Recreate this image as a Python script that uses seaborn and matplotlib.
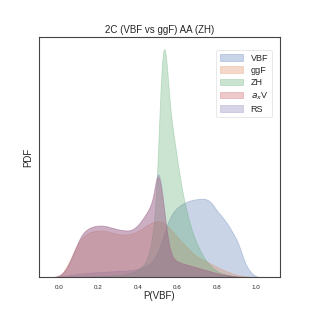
import numpy as np
import pandas as pd
import matplotlib
matplotlib.use("Agg")
import matplotlib.pyplot as plt
import seaborn as sns

# grid of P(VBF) values and the curve heights
p_grid = np.round(np.arange(0, 1.0001, 0.02), 2)

vbf = [0.5, 1, 1.5, 2, 2.5, 3, 3.3, 3.6, 3.9, 4.2, 4.5, 4.8, 5, 5.2, 5.4, 5.6,
       5.8, 6, 6.3, 6.7, 7.5, 8.5, 10, 12, 16, 22, 31, 44, 54, 60, 64, 66.5, 68.5,
       70, 71, 71.5, 72, 72, 70.5, 67, 61, 57, 52.5, 47.5, 41, 35, 26, 14, 7, 3, 0.5]
ggf = [1, 4, 10, 18, 27, 34, 39, 42, 44, 45, 45.5, 45.5, 45, 44, 43, 42, 41.5,
       41.5, 42, 43, 45, 47, 50, 52, 54, 55, 54, 52, 48, 44, 39, 35, 31, 27, 23,
       20, 18, 16, 14, 12, 10, 8, 6.5, 5, 3.5, 2, 1.5, 1, 0.5, 0.2, 0]
zh = [0, 0, 0, 0, 0.2, 0.3, 0.4, 0.5, 0.6, 0.8, 1, 1.2, 1.4, 1.6, 1.8, 2, 2.5,
      3, 4, 5.5, 7, 10, 15, 24, 45, 95, 232, 245, 172, 145, 118, 92, 72, 56, 43,
      33, 25, 18, 13, 9, 6, 4, 3, 2, 1, 0.5, 0.2, 0, 0, 0, 0]
axv = [1, 3, 8, 15, 23, 32, 38.5, 42, 44, 45, 45.5, 45.5, 45, 44, 43, 42, 41.5,
       41, 41, 42.5, 45.5, 50, 55, 61, 69, 98, 80, 48, 24, 16, 14, 12.5, 11.5,
       10.5, 9.5, 8.5, 7.5, 6.5, 5.5, 4.5, 3.5, 2.5, 2, 1.5, 1, 0.5, 0.2, 0, 0, 0, 0]
rs = [1, 3, 8, 15, 24, 33, 40, 43, 45, 46.5, 47, 47, 46.5, 45.5, 44.5, 43.5, 43,
      42.5, 42.5, 44, 47, 52, 57, 63, 71, 104, 86, 51, 25, 16, 14, 12.5, 11.5,
      10.5, 9.5, 8.5, 7.5, 6.5, 5.5, 4.5, 3.5, 2.5, 2, 1.5, 1, 0.5, 0.2, 0, 0, 0, 0]

labels = ["VBF", "ggF", "ZH", r"$a_x$V", "RS"]
series = [vbf, ggf, zh, axv, rs]
xticks = [0.0, 0.2, 0.4, 0.6, 0.8, 1.0]

sns.set_style("white")
plt.rcParams["font.family"] = ["Liberation Sans", "DejaVu Sans"]
colors = sns.color_palette("deep", 5)

fig, ax = plt.subplots(figsize=(3.12, 3.12), dpi=100)

bw = 0.013
for lab, vals, c in zip(labels, series, colors):
    df = pd.DataFrame({"p": p_grid, "w": vals})
    mean = np.average(df.p, weights=df.w)
    std = np.sqrt(np.average((df.p - mean) ** 2, weights=df.w))
    sns.kdeplot(data=df, x="p", weights="w", fill=True, alpha=0.3,
                bw_method=bw / std, color=c, label=lab, ax=ax,
                edgecolor=(*c, 0.3), linewidth=0.6)

ax.set_xlim(-0.1, 1.12)
ax.set_xticks(xticks)
ax.set_xticklabels([f"{t:.1f}" for t in xticks], fontsize=4.5)
ax.set_yticks([])
ax.set_xlabel("P(VBF)", fontsize=7, labelpad=1)
ax.set_ylabel("PDF", fontsize=7)
ax.set_title("2C (VBF vs ggF) AA (ZH)", fontsize=7, pad=3)
ax.tick_params(axis="x", pad=2)
for s in ax.spines.values():
    s.set_color("#444444")
    s.set_linewidth(0.8)

leg = ax.legend(loc="upper right", bbox_to_anchor=(0.985, 0.965), fontsize=6.5,
                handlelength=2.6, labelspacing=0.35, frameon=True)
leg.get_frame().set_edgecolor("#dddddd")
leg.get_frame().set_linewidth(0.6)

fig.subplots_adjust(left=0.125, right=0.897, bottom=0.112, top=0.881)
fig.savefig("out.png", dpi=100)
